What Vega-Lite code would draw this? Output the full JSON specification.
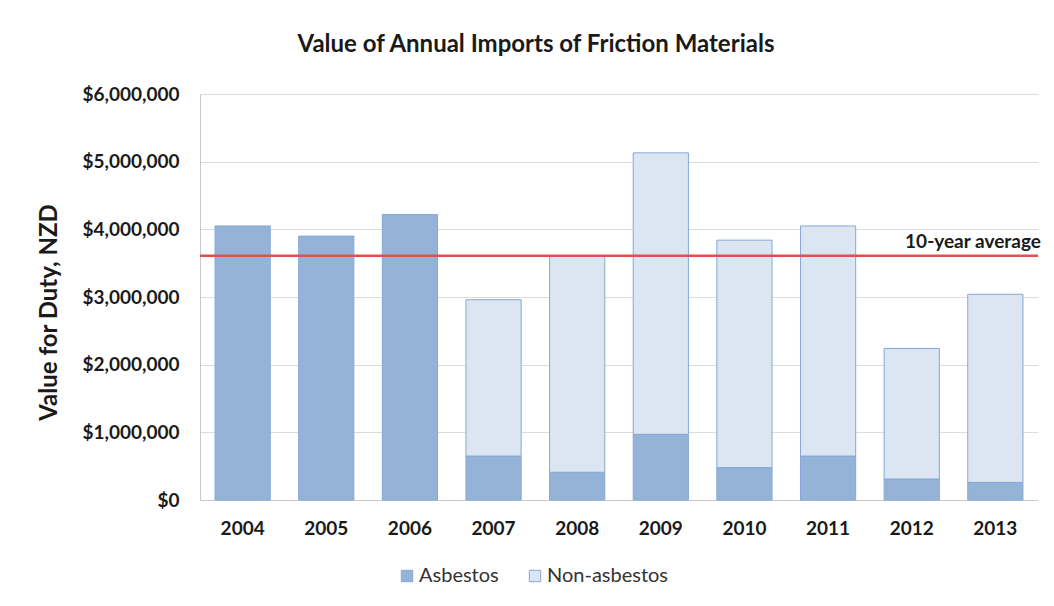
{
  "$schema": "https://vega.github.io/schema/vega-lite/v6.json",
  "width": 838,
  "height": 406,
  "autosize": {"type": "none"},
  "padding": {"left": 200, "top": 94, "right": 16, "bottom": 106},
  "background": "white",
  "title": {
    "text": "Value of Annual Imports of Friction Materials",
    "font": "Lato",
    "fontSize": 24,
    "fontWeight": "bold",
    "color": "#1a1a1a",
    "anchor": "middle",
    "frame": "group",
    "dx": -83,
    "offset": 28
  },
  "datasets": {
    "imports": [
      {"year": "2004", "type": "Asbestos", "value": 4050000},
      {"year": "2005", "type": "Asbestos", "value": 3900000},
      {"year": "2006", "type": "Asbestos", "value": 4220000},
      {"year": "2007", "type": "Asbestos", "value": 650000},
      {"year": "2007", "type": "Non-asbestos", "value": 2310000},
      {"year": "2008", "type": "Asbestos", "value": 410000},
      {"year": "2008", "type": "Non-asbestos", "value": 3190000},
      {"year": "2009", "type": "Asbestos", "value": 970000},
      {"year": "2009", "type": "Non-asbestos", "value": 4160000},
      {"year": "2010", "type": "Asbestos", "value": 480000},
      {"year": "2010", "type": "Non-asbestos", "value": 3360000},
      {"year": "2011", "type": "Asbestos", "value": 650000},
      {"year": "2011", "type": "Non-asbestos", "value": 3400000},
      {"year": "2012", "type": "Asbestos", "value": 310000},
      {"year": "2012", "type": "Non-asbestos", "value": 1930000},
      {"year": "2013", "type": "Asbestos", "value": 260000},
      {"year": "2013", "type": "Non-asbestos", "value": 2780000}
    ],
    "avg": [
      {"label": "10-year average", "value": 3610000, "year": "2013"}
    ]
  },
  "layer": [
    {
      "data": {"name": "imports"},
      "mark": {"type": "bar", "stroke": "#84a8d8", "strokeWidth": 1},
      "encoding": {
        "x": {
          "field": "year",
          "type": "ordinal",
          "scale": {"paddingInner": 0.34, "paddingOuter": 0.18},
          "axis": {
            "title": null,
            "labelAngle": 0,
            "labelFont": "Lato",
            "labelFontSize": 19,
            "labelFontWeight": "bold",
            "labelColor": "#1a1a1a",
            "labelPadding": 19,
            "ticks": false,
            "domainColor": "#c8c8c8",
            "grid": false
          }
        },
        "y": {
          "field": "value",
          "type": "quantitative",
          "stack": "zero",
          "scale": {"domain": [0, 6000000]},
          "axis": {
            "title": "Value for Duty, NZD",
            "titleFont": "Lato",
            "titleFontSize": 24,
            "titleFontWeight": "bold",
            "titleColor": "#1a1a1a",
            "titlePadding": 20,
            "titleY": 218,
            "format": "$,.0f",
            "values": [0, 1000000, 2000000, 3000000, 4000000, 5000000, 6000000],
            "labelFont": "Lato",
            "labelFontSize": 19,
            "labelFontWeight": "bold",
            "labelColor": "#1a1a1a",
            "labelPadding": 21,
            "ticks": false,
            "domainColor": "#c8c8c8",
            "gridColor": "#dcdcdc",
            "gridWidth": 1
          }
        },
        "color": {
          "field": "type",
          "type": "nominal",
          "scale": {"domain": ["Asbestos", "Non-asbestos"], "range": ["#95b3d7", "#dce6f2"]},
          "legend": {
            "title": null,
            "orient": "none",
            "direction": "horizontal",
            "legendX": 197,
            "legendY": 472,
            "symbolType": "square",
            "symbolSize": 130,
            "symbolStrokeColor": "#86a9d8",
            "symbolStrokeWidth": 1,
            "symbolOpacity": 1,
            "labelFont": "Lato",
            "labelFontSize": 20,
            "labelColor": "#333333",
            "labelOffset": 2,
            "columnPadding": 26
          }
        },
        "order": {"field": "type", "sort": "ascending"}
      }
    },
    {
      "data": {"name": "avg"},
      "mark": {"type": "rule", "color": "#d9534f", "strokeWidth": 2.5},
      "encoding": {
        "y": {"field": "value", "type": "quantitative"}
      }
    },
    {
      "data": {"name": "avg"},
      "mark": {"type": "text", "align": "right", "baseline": "bottom", "dx": 18, "dy": -4, "font": "Lato", "fontSize": 19, "fontWeight": "bold", "color": "#1a1a1a"},
      "encoding": {
        "x": {"field": "year", "type": "ordinal", "bandPosition": 1},
        "y": {"field": "value", "type": "quantitative"},
        "text": {"field": "label"}
      }
    }
  ],
  "config": {
    "view": {"stroke": null}
  }
}
